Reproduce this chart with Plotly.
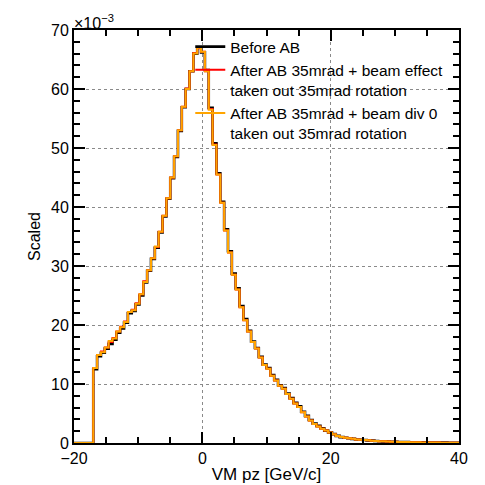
import numpy as np
import plotly.graph_objects as go

# Histogram binning (100 bins from -20 to 40)
x_lo, x_hi, n_bins = -20.0, 40.0, 100
y_lo, y_hi = 0, 70
x_major, x_minor = 20, 5
y_major, y_minor = 10, 2

# bin contents (units of 1e-3); first 5 bins (-20 .. -17) empty
before_ab = [0, 0, 0, 0, 0,
    12.5, 14.7, 15.3, 16.0, 16.8, 17.5, 18.7, 19.4, 20.4, 22.0,
    22.4, 23.5, 25.0, 27.2, 29.2, 31.2, 33.1, 35.7, 38.4, 41.4,
    44.9, 48.5, 52.9, 56.9, 60.0, 63.0, 66.0, 67.0, 66.2, 63.2,
    56.8, 50.8, 45.7, 40.9, 36.2, 32.5, 28.7, 26.2, 23.2, 21.0,
    19.0, 17.2, 16.1, 14.6, 13.3, 12.7, 11.5, 10.7, 9.8, 9.3,
    8.4, 7.6, 6.8, 6.2, 5.3, 4.6, 3.9, 3.3, 2.9, 2.5,
    2.1, 1.8, 1.5, 1.2, 1.0, 0.9, 0.8, 0.7, 0.6, 0.55,
    0.5, 0.45, 0.4, 0.35, 0.3, 0.28, 0.25, 0.22, 0.2, 0.18,
    0.16, 0.15, 0.13, 0.12, 0.11, 0.1, 0.09, 0.08, 0.08, 0.07,
    0.06, 0.06, 0.05, 0.05, 0.04]

after_ab_beam_effect = [0, 0, 0, 0, 0,
    12.7, 14.9, 15.5, 16.2, 17.1, 17.8, 18.9, 19.7, 20.6, 22.2,
    22.6, 23.7, 25.2, 27.4, 29.3, 31.3, 33.2, 35.8, 38.5, 41.5,
    45.0, 48.6, 53.0, 57.0, 60.1, 63.0, 66.1, 66.9, 66.3, 63.0,
    56.6, 50.6, 45.5, 40.7, 36.0, 32.3, 28.5, 26.0, 23.0, 20.8,
    18.9, 17.1, 16.0, 14.5, 13.2, 12.6, 11.4, 10.6, 9.7, 9.2,
    8.3, 7.5, 6.7, 6.1, 5.2, 4.5, 3.8, 3.2, 2.8, 2.4,
    2.1, 1.8, 1.5, 1.2, 1.0, 0.9, 0.8, 0.7, 0.6, 0.55,
    0.5, 0.45, 0.4, 0.35, 0.3, 0.28, 0.25, 0.22, 0.2, 0.18,
    0.16, 0.15, 0.13, 0.12, 0.11, 0.1, 0.09, 0.08, 0.08, 0.07,
    0.06, 0.06, 0.05, 0.05, 0.04]

after_ab_beam_div0 = [0, 0, 0, 0, 0,
    12.7, 14.9, 15.4, 16.2, 17.3, 17.7, 18.9, 19.6, 20.5, 22.2,
    22.5, 23.6, 25.2, 27.3, 29.3, 31.3, 33.3, 35.8, 38.5, 41.5,
    45.0, 48.6, 53.0, 57.0, 60.0, 63.0, 66.0, 67.0, 66.3, 63.0,
    56.5, 50.5, 45.5, 40.7, 36.0, 32.3, 28.5, 26.0, 23.0, 20.8,
    18.9, 17.1, 16.0, 14.5, 13.2, 12.6, 11.4, 10.6, 9.7, 9.2,
    8.3, 7.5, 6.7, 6.1, 5.2, 4.5, 3.8, 3.2, 2.8, 2.4,
    2.1, 1.8, 1.5, 1.2, 1.0, 0.9, 0.8, 0.7, 0.6, 0.55,
    0.5, 0.45, 0.4, 0.35, 0.3, 0.28, 0.25, 0.22, 0.2, 0.18,
    0.16, 0.15, 0.13, 0.12, 0.11, 0.1, 0.09, 0.08, 0.08, 0.07,
    0.06, 0.06, 0.05, 0.05, 0.04]

series_names = ["Before AB",
                "After AB 35mrad + beam effect<br>taken out 35mrad rotation",
                "After AB 35mrad + beam div 0<br>taken out 35mrad rotation"]
series_colors = ["#000000", "#ff0000", "#ffa500"]
series_widths = [2.6, 2.0, 2.0]

edges = np.linspace(x_lo, x_hi, n_bins + 1)

FONT = "Liberation Sans, Arial, Helvetica, sans-serif"

fig = go.Figure()
for vals, name, col, w in zip([before_ab, after_ab_beam_effect, after_ab_beam_div0],
                              series_names, series_colors, series_widths):
    xs = list(edges)
    ys = list(vals) + [vals[-1]]
    fig.add_trace(go.Scatter(x=xs, y=ys, mode="lines", name=name,
                             line=dict(color=col, width=w, shape="hv")))

axis_common = dict(
    showline=True, linecolor="black", linewidth=2, mirror="allticks",
    ticks="inside", ticklen=11, tickwidth=2, tickcolor="black",
    showgrid=True, gridcolor="#8a8a8a", gridwidth=1, griddash="dot",
    zeroline=False, automargin=False,
    tickfont=dict(family=FONT, size=16, color="black"),
)

fig.update_xaxes(range=[x_lo, x_hi], dtick=x_major,
                 minor=dict(dtick=x_minor, ticks="inside", ticklen=6,
                            tickwidth=1.5, tickcolor="black", showgrid=False),
                 title=dict(text="VM pz [GeV/c]", font=dict(family=FONT, size=17, color="black"), standoff=2),
                 **axis_common)
fig.update_yaxes(range=[y_lo, y_hi], dtick=y_major,
                 minor=dict(dtick=y_minor, ticks="inside", ticklen=6,
                            tickwidth=1.5, tickcolor="black", showgrid=False),
                 title=dict(text="Scaled", font=dict(family=FONT, size=16, color="black"), standoff=6),
                 **axis_common)

fig.add_annotation(xref="paper", yref="paper", x=-0.005, y=1.0, xanchor="left", yanchor="bottom",
                   text="\u00d710<sup>\u22123</sup>", showarrow=False,
                   font=dict(family=FONT, size=16, color="black"), yshift=-4)

fig.update_layout(
    width=485, height=485,
    margin=dict(l=74, r=26, t=30, b=42),
    paper_bgcolor="white", plot_bgcolor="white",
    showlegend=True,
    legend=dict(x=0.302, y=1.0, xanchor="left", yanchor="top",
                bgcolor="rgba(0,0,0,0)", borderwidth=0,
                font=dict(family=FONT, size=15.5, color="black"),
                valign="top", tracegroupgap=1, itemwidth=30),
)

fig.write_html("out.html")
